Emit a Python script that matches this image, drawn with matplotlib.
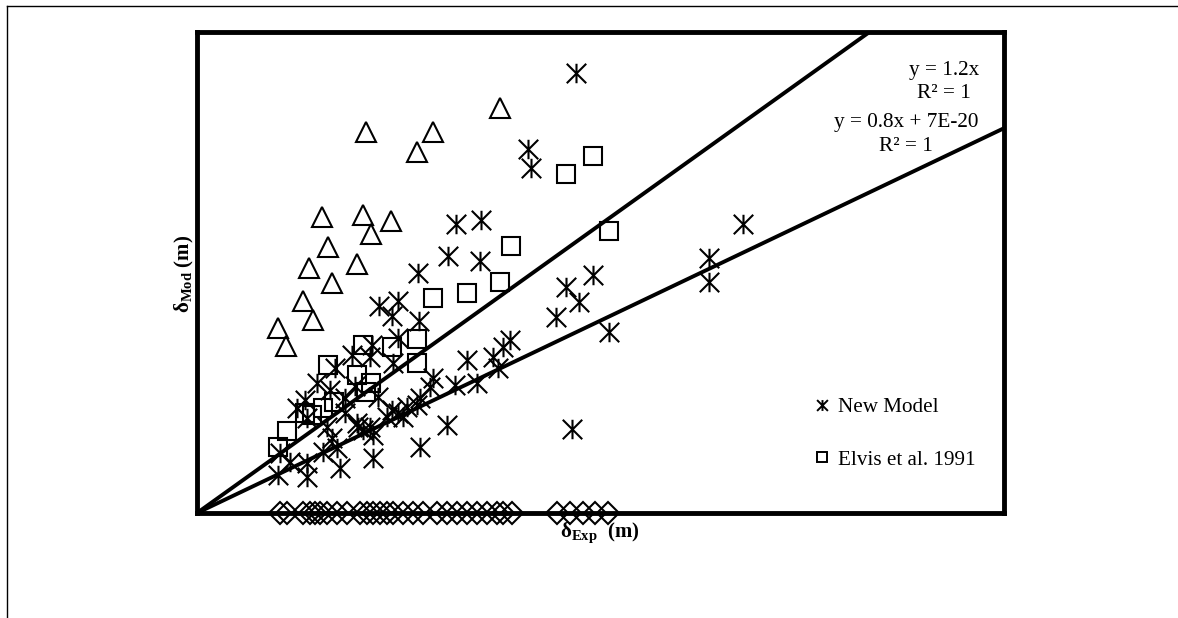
import matplotlib
matplotlib.use("Agg")
import matplotlib.pyplot as plt
from matplotlib.path import Path
from matplotlib.lines import Line2D
import numpy as np

plt.rcParams['font.family'] = ['Liberation Serif', 'DejaVu Serif']
plt.rcParams['mathtext.fontset'] = 'custom'
plt.rcParams['mathtext.rm'] = 'Liberation Serif'
plt.rcParams['mathtext.it'] = 'Liberation Serif:italic'
plt.rcParams['mathtext.bf'] = 'Liberation Serif:bold'

# Axis range (m), equal on both axes
AX_MAX = 0.3

# New model predictions: measured deflection vs modelled deflection
new_exp = [0.1409, 0.1230, 0.1242, 0.2030, 0.1903, 0.1903, 0.1472, 0.1372, 0.1420, 0.1335,
           0.1532, 0.1394, 0.0963, 0.1056, 0.0933, 0.1052, 0.0822, 0.0677, 0.0747, 0.0725,
           0.0825, 0.1164, 0.1138, 0.1100, 0.1119, 0.1004, 0.1041, 0.0959, 0.0877, 0.0866,
           0.0829, 0.0818, 0.0747, 0.0651, 0.0729, 0.0725, 0.0706, 0.0766, 0.0929, 0.0829,
           0.0654, 0.0654, 0.0576, 0.0513, 0.0643, 0.0446, 0.0494, 0.0550, 0.0372, 0.0409,
           0.0550, 0.0483, 0.0599, 0.0643, 0.0502, 0.0309, 0.0346, 0.0409, 0.0532, 0.0409,
           0.0301, 0.0595, 0.0617, 0.0747, 0.0520, 0.0401, 0.0468, 0.0587, 0.0673, 0.0781]
new_mod = [0.2744, 0.2270, 0.2152, 0.1802, 0.1590, 0.1441, 0.1484, 0.1410, 0.1316, 0.1222,
           0.1129, 0.0524, 0.1802, 0.1827, 0.1603, 0.1572, 0.1497, 0.1291, 0.1322, 0.1229,
           0.1197, 0.1079, 0.1035, 0.0973, 0.0904, 0.0954, 0.0811, 0.0798, 0.0842, 0.0786,
           0.0717, 0.0674, 0.1091, 0.1048, 0.0936, 0.0642, 0.0599, 0.0599, 0.0549, 0.0412,
           0.0486, 0.0343, 0.0985, 0.0904, 0.0973, 0.0811, 0.0767, 0.0717, 0.0655, 0.0593,
           0.0624, 0.0536, 0.0536, 0.0536, 0.0468, 0.0374, 0.0318, 0.0312, 0.0281, 0.0225,
           0.0237, 0.0561, 0.0518, 0.0624, 0.0405, 0.0705, 0.0380, 0.0792, 0.0723, 0.0661]

# Elvis et al. (1991)
elvis_exp = [0.0301, 0.0335, 0.0401, 0.0468, 0.0509, 0.0487, 0.0595, 0.0617, 0.0647, 0.0628,
             0.0725, 0.0818, 0.0818, 0.0877, 0.1004, 0.1126, 0.1167, 0.1372, 0.1472, 0.1532,
             0.0428]
elvis_mod = [0.0412, 0.0511, 0.0624, 0.0655, 0.0692, 0.0923, 0.0861, 0.1048, 0.0811, 0.0755,
             0.1035, 0.1085, 0.0936, 0.1341, 0.1372, 0.1441, 0.1665, 0.2114, 0.2227, 0.1759,
             0.0611]

# Third data set (open triangles)
tri_exp = [0.0301, 0.0331, 0.0431, 0.0394, 0.0416, 0.0502, 0.0487, 0.0595, 0.0465, 0.0617,
           0.0721, 0.0647, 0.0628, 0.0877, 0.0818, 0.1126]
tri_mod = [0.1154, 0.1042, 0.1204, 0.1322, 0.1528, 0.1435, 0.1659, 0.1553, 0.1846, 0.1859,
           0.1821, 0.1740, 0.2376, 0.2376, 0.2252, 0.2526]

# Experimental deflections (open diamonds on the horizontal axis)
exp_only = [0.0309, 0.0335, 0.0394, 0.0420, 0.0439, 0.0457, 0.0483, 0.0520, 0.0558, 0.0606,
            0.0632, 0.0654, 0.0680, 0.0706, 0.0729, 0.0766, 0.0803, 0.0840, 0.0892, 0.0929,
            0.0967, 0.1004, 0.1041, 0.1078, 0.1115, 0.1138, 0.1171, 0.1338, 0.1387, 0.1435,
            0.1480, 0.1528]

# Bounding lines
slope_hi = 1.2
slope_lo = 0.8

# Six-armed star: an X with a vertical bar
star = Path([(-1, -1), (1, 1), (-1, 1), (1, -1), (0, -1), (0, 1)],
            [Path.MOVETO, Path.LINETO] * 3)

fig = plt.figure(figsize=(11.78, 6.18), dpi=100)
ax = fig.add_axes([197 / 1178, 1 - 513 / 618, 807 / 1178, 481 / 618])
ax.set_xlim(0, AX_MAX)
ax.set_ylim(0, AX_MAX)

xx = np.array([0, AX_MAX])
ax.plot(xx, slope_hi * xx, color='black', lw=2.8, zorder=5)
ax.plot(xx, slope_lo * xx, color='black', lw=2.8, zorder=5)

mew = 1.5
ax.plot(exp_only, np.zeros(len(exp_only)), ls='none', marker='D', ms=11,
        mfc='none', mec='black', mew=mew, clip_on=False, zorder=3)
ax.plot(tri_exp, tri_mod, ls='none', marker='^', ms=14, mfc='none', mec='black', mew=mew, zorder=3)
ax.plot(elvis_exp, elvis_mod, ls='none', marker='s', ms=13.5, mfc='none', mec='black', mew=mew,
        zorder=3)
ax.plot(new_exp, new_mod, ls='none', marker=star, ms=14, mfc='none', mec='black', mew=mew,
        zorder=4)

for s in ax.spines.values():
    s.set_linewidth(3.5)
    s.set_color('black')
    s.set_zorder(6)
ax.set_xticks([])
ax.set_yticks([])

ax.text(0.9257, 0.896, 'y = 1.2x\nR² = 1', transform=ax.transAxes, ha='center', va='center',
        multialignment='center', fontsize=15.3, linespacing=1.35)
ax.text(0.8786, 0.787, 'y = 0.8x + 7E-20\nR² = 1', transform=ax.transAxes, ha='center',
        va='center', multialignment='center', fontsize=15.3, linespacing=1.35)

handles = [Line2D([], [], ls='none', marker=star, ms=13, mfc='none', mec='black', mew=1.4),
           Line2D([], [], ls='none', marker='s', ms=13, mfc='none', mec='black', mew=1.4)]
ax.legend(handles, ['New Model', 'Elvis et al. 1991'], loc='upper left',
          bbox_to_anchor=(0.767, 0.24), frameon=False, fontsize=15.2, markerscale=0.6,
          handlelength=0.6, handletextpad=0.45, labelspacing=1.55, borderpad=0,
          borderaxespad=0)

fig.text(600 / 1178, 1 - 533 / 618, r'$\mathbf{\delta_{Exp}}$  (m)', ha='center', va='center',
         fontsize=15, fontweight='bold')
fig.text(184 / 1178, 1 - 274 / 618, r'$\mathbf{\delta_{Mod}}$ (m)', ha='center', va='center',
         fontsize=15, fontweight='bold', rotation=90)

# Outer frame lines (top and left)
fig.add_artist(Line2D([7 / 1178, 1], [1 - 6 / 618, 1 - 6 / 618], color='black', lw=1.0))
fig.add_artist(Line2D([7 / 1178, 7 / 1178], [0, 1 - 6 / 618], color='black', lw=1.0))

fig.savefig('out.png', dpi=100)
